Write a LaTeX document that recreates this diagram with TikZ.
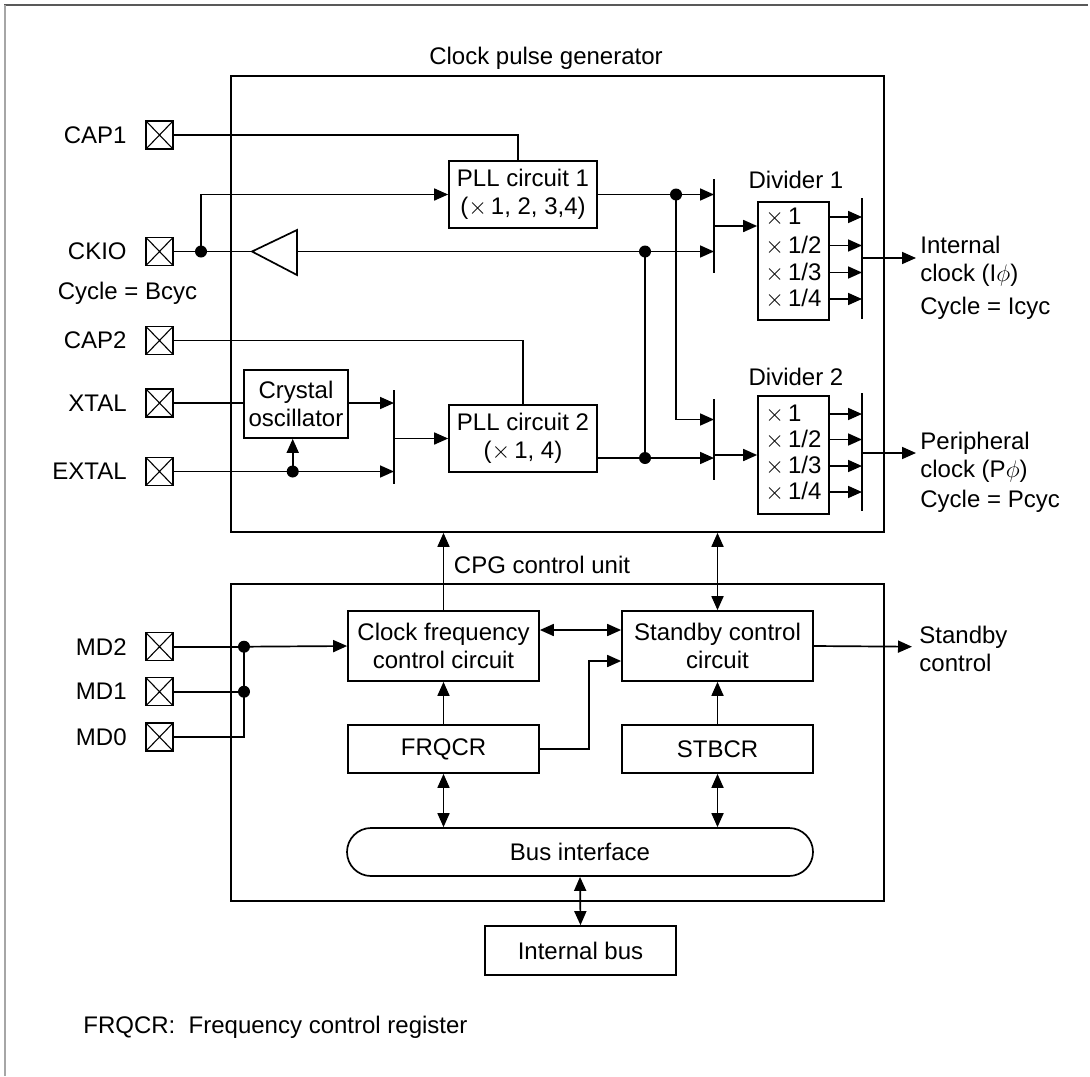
\documentclass[tikz,border=0pt]{standalone}
\usepackage{fontspec}
\setmainfont{Liberation Sans}
\usetikzlibrary{arrows.meta,positioning,shapes.misc}

\tikzset{
  wire/.style={line width=0.85pt},
  arr/.style={wire, -{Triangle[length=7pt,width=6pt]}},
  dbl/.style={wire, {Triangle[length=7pt,width=6pt]}-{Triangle[length=7pt,width=6pt]}},
  blk/.style={draw, line width=0.85pt, inner sep=0pt, align=center},
  pinbox/.style={draw, line width=0.7pt, minimum width=13.5pt, minimum height=14pt, inner sep=0pt,
    path picture={\draw[line width=0.55pt] (path picture bounding box.south west) -- (path picture bounding box.north east)
      (path picture bounding box.north west) -- (path picture bounding box.south east);}},
  pinlbl/.style={anchor=east, inner sep=0pt},
  outlbl/.style={anchor=north west, inner sep=0pt, align=left},
  jdot/.style={circle, fill, inner sep=0pt, minimum size=6pt},
}

\begin{document}
\begin{tikzpicture}[x=0.5pt,y=-0.5pt,font=\fontsize{12pt}{14pt}\selectfont]
\useasboundingbox (0,0) rectangle (1090,1076);
% page frame
\draw[black!65, line width=1pt] (4,5) -- (1088,5);
\draw[black!35, line width=1pt] (5,5) -- (5,1076);

% the two units
\node[blk, minimum width=326.5pt, minimum height=228pt] (cpg) at (557.5,304) {};
\node[blk, minimum width=326.5pt, minimum height=158.5pt] (ctl) at (557.5,742.5) {};
\node (cpgtxt) at (546,58) {Clock pulse generator};
\node (ctltxt) at (542,565) {CPG control unit};

% pins
\node[pinbox] (cap1) at (159.5,135) {};
\node[pinbox] (ckio) at (159.5,251.5) {};
\node[pinbox] (cap2) at (159.5,340.5) {};
\node[pinbox] (xtal) at (159.5,403) {};
\node[pinbox] (extal) at (159.5,471.5) {};
\node[pinbox] (md2) at (159.5,646.7) {};
\node[pinbox] (md1) at (159.5,691.7) {};
\node[pinbox] (md0) at (159.5,737) {};
\node[pinlbl] (cap1txt) at (127,135) {CAP1};
\node[pinlbl] (ckiotxt) at (127,251.5) {CKIO};
\node[pinlbl] (cap2txt) at (127,340.5) {CAP2};
\node[pinlbl] (xtaltxt) at (127,403) {XTAL};
\node[pinlbl] (extaltxt) at (127,471.5) {EXTAL};
\node[pinlbl] (md2txt) at (127,646.7) {MD2};
\node[pinlbl] (md1txt) at (127,691.7) {MD1};
\node[pinlbl] (md0txt) at (127,737) {MD0};
\node (bcyc) at (127.5,293) {Cycle = Bcyc};

% clock pulse generator blocks
\node[blk, minimum width=74pt, minimum height=33.5pt] (pll1) at (523,194.5) {PLL circuit 1\\($\times$\,1, 2, 3,4)};
\node[blk, minimum width=74pt, minimum height=33.5pt] (pll2) at (523,438.5) {PLL circuit 2\\($\times$\,1, 4)};
\node[blk, minimum width=52pt, minimum height=34pt] (xo) at (296,404) {Crystal\\oscillator};
\node[blk, minimum width=35.5pt, minimum height=59pt] (div1) at (793.5,261) {};
\node[blk, minimum width=35.5pt, minimum height=59pt] (div2) at (793.5,455) {};
\node (div1txt) at (796,180) {Divider 1};
\node (div2txt) at (796,377) {Divider 2};
\node[anchor=west, inner sep=0pt] (d1r1) at (765,217) {$\times$\,1};
\node[anchor=west, inner sep=0pt] (d1r2) at (765,245.5) {$\times$\,1/2};
\node[anchor=west, inner sep=0pt] (d1r3) at (765,272.5) {$\times$\,1/3};
\node[anchor=west, inner sep=0pt] (d1r4) at (765,299) {$\times$\,1/4};
\node[anchor=west, inner sep=0pt] (d2r1) at (765,414) {$\times$\,1};
\node[anchor=west, inner sep=0pt] (d2r2) at (765,439.5) {$\times$\,1/2};
\node[anchor=west, inner sep=0pt] (d2r3) at (765,466) {$\times$\,1/3};
\node[anchor=west, inner sep=0pt] (d2r4) at (765,492) {$\times$\,1/4};

% selector bars
\coordinate (mx1t) at (714,179);
\coordinate (mx1b) at (714,273);
\coordinate (mx2t) at (394,390);
\coordinate (mx2b) at (394,484);
\coordinate (mx3t) at (714,399);
\coordinate (mx3b) at (714,480);
\coordinate (ob1t) at (862,198);
\coordinate (ob1b) at (862,319);
\coordinate (ob2t) at (862,393);
\coordinate (ob2b) at (862,511);
\draw[wire] (mx1t) -- (mx1b);
\draw[wire] (mx2t) -- (mx2b);
\draw[wire] (mx3t) -- (mx3b);
\draw[wire] (ob1t) -- (ob1b);
\draw[wire] (ob2t) -- (ob2b);

% CKIO buffer
\coordinate (buftip) at (252,251.5);
\coordinate (bufin) at (297,251.5);
\draw[wire] (297,230) -- (buftip) -- (297,275) -- cycle;

% junction dots
\node[jdot] (jc) at (201,251.5) {};
\node[jdot] (jx) at (292.7,471.5) {};
\node[jdot] (jb) at (645,251.5) {};
\node[jdot] (jp1) at (676,194.5) {};
\node[jdot] (jp2) at (645,458) {};
\node[jdot] (jm2) at (244,646.7) {};
\node[jdot] (jm1) at (244,691.7) {};

% generator wiring
\draw[wire] (cap1.east) -| ([xshift=-2.5pt]pll1.north);
\draw[wire] (cap2.east) -| (pll2.north);
\draw[wire] (ckio.east) -- (buftip);
\draw[arr] (jc.center) |- (pll1.west);
\draw[arr] (bufin) -- (bufin -| mx1t);
\draw[arr] (pll1.east) -- (pll1.east -| mx1t);
\draw[arr] (jp1.center) |- (mx3t |- 0,419.5);
\draw[wire] (jb.center) -- (jp2.center);
\draw[arr] (pll2.east |- jp2) -- (jp2 -| mx3t);
\draw[wire] (xtal.east) -- (xtal.east -| xo.west);
\draw[arr] (xo.east |- xtal.east) -- (xtal.east -| mx2t);
\draw[arr] (extal.east) -- (extal.east -| mx2t);
\draw[arr] (jx.center) -- (jx.center |- xo.south);
\draw[arr] (mx2t |- pll2.west) -- (pll2.west);
\draw[arr] (mx1t |- 0,226) -- (div1.west |- 0,226);
\draw[arr] (mx3t |- div2.west) -- (div2.west);
\draw[arr] (d1r1 -| div1.east) -- (d1r1 -| ob1t);
\draw[arr] (d1r2 -| div1.east) -- (d1r2 -| ob1t);
\draw[arr] (d1r3 -| div1.east) -- (d1r3 -| ob1t);
\draw[arr] (d1r4 -| div1.east) -- (d1r4 -| ob1t);
\draw[arr] (d2r1 -| div2.east) -- (d2r1 -| ob2t);
\draw[arr] (d2r2 -| div2.east) -- (d2r2 -| ob2t);
\draw[arr] (d2r3 -| div2.east) -- (d2r3 -| ob2t);
\draw[arr] (d2r4 -| div2.east) -- (d2r4 -| ob2t);
\coordinate (iout) at (916,258);
\coordinate (pout) at (916,453);
\draw[arr] (ob1t |- iout) -- (iout);
\draw[arr] (ob2t |- pout) -- (pout);
\node[outlbl] (iclk) at (920,235.5) {Internal\\clock (I$\phi$)\\[2.5pt]Cycle = Icyc};
\node[outlbl] (pclk) at (920,431.4) {Peripheral\\clock (P$\phi$)\\[1pt]Cycle = Pcyc};

% control unit blocks
\node[blk, minimum width=95.5pt, minimum height=35pt] (clkf) at (443.5,646) {Clock frequency\\control circuit};
\node[blk, minimum width=95.5pt, minimum height=35pt] (stby) at (717.5,646) {Standby control\\circuit};
\node[blk, minimum width=95.5pt, minimum height=24pt] (frqcr) at (443.5,749) {FRQCR};
\node[blk, minimum width=95.5pt, minimum height=24pt] (stbcr) at (717.5,749) {STBCR};
\node[blk, rounded rectangle, minimum width=233pt, minimum height=24pt] (bus) at (580,852) {Bus interface};
\node[blk, minimum width=95.5pt, minimum height=24.5pt] (ibus) at (580.5,950.5) {Internal bus};

% control unit wiring
\draw[wire] (md2.east) -- (jm2.center);
\draw[wire] (md1.east) -- (jm1.center);
\draw[wire] (md0.east) -| (jm2.center);
\draw[arr] (jm2.center) -- (clkf.west);
\draw[arr] (clkf.north) -- (clkf.north |- cpg.south);
\draw[dbl] (stby.north) -- (stby.north |- cpg.south);
\draw[dbl] (clkf.east |- 0,630) -- (stby.west |- 0,630);
\draw[arr] (frqcr.north) -- (clkf.south);
\draw[arr] (stbcr.north) -- (stby.south);
\draw[arr] (frqcr.east) -- (589,749) |- (stby.west |- 0,661);
\draw[dbl] (frqcr.south) -- (frqcr.south |- bus.north);
\draw[dbl] (stbcr.south) -- (stbcr.south |- bus.north);
\draw[dbl] (bus.south) -- (ibus.north);
\coordinate (sout) at (912,646.7);
\draw[arr] (stby.east) -- (sout);
\node[outlbl] (stbytxt) at (919,625.4) {Standby\\control};

% note
\node[anchor=west, inner sep=0pt] (note) at (83,1027) {FRQCR:\ \ Frequency control register};
\end{tikzpicture}
\end{document}
